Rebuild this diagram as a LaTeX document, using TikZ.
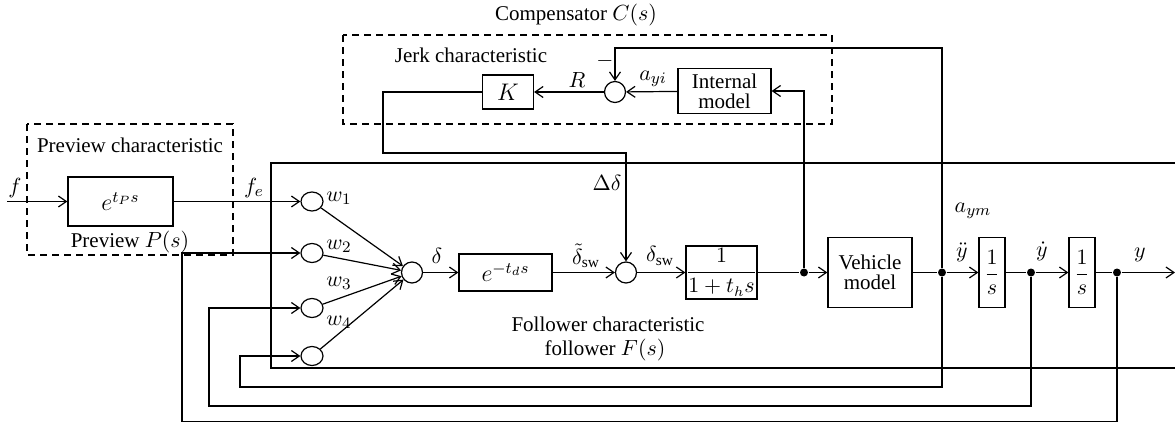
\documentclass[tikz,border=0pt]{standalone}
\usepackage{fontspec}
\setmainfont{Liberation Serif}
\usetikzlibrary{arrows.meta,shapes.geometric}
\begin{document}
\begin{tikzpicture}[x=0.5pt,y=-0.5pt, line width=0.6pt,
  >={Straight Barb[length=4pt,width=5.5pt]},
  blk/.style={draw, inner sep=0pt, align=center, font=\fontsize{10.5}{11}\selectfont},
  mblk/.style={blk, font=\fontsize{11.5}{12}\selectfont},
  sumc/.style={draw, circle, minimum size=10.5pt, inner sep=0pt},
  wc/.style={draw, ellipse, minimum width=11pt, minimum height=9.5pt, inner sep=0pt},
  dot/.style={circle, fill, minimum size=4pt, inner sep=0pt},
  lbl/.style={font=\fontsize{10.5}{11}\selectfont, inner sep=0pt},
  mlbl/.style={font=\fontsize{11}{12}\selectfont, inner sep=0pt},
  dbox/.style={draw, dash pattern=on 3.5pt off 2.5pt},
]
\useasboundingbox (0,0) rectangle (1175,423);

% dashed regions
\draw[dbox] (343,35) rectangle (832,124);
\draw[dbox] (27,124) rectangle (233,255);
% follower region (open to the right)
\draw (1175,163) -- (271,163) -- (271,368) -- (1175,368);

% labels of regions
\node[lbl] (lcomp) at (576,15) {Compensator $C(s)$};
\node[lbl] (ljerk) at (471,55) {Jerk characteristic};
\node[lbl] (lprevc) at (130,145) {Preview characteristic};
\node[lbl] (lprev) at (130,242) {Preview $P(s)$};
\node[lbl] (lfol1) at (608,324) {Follower characteristic};
\node[lbl] (lfol2) at (605,350) {follower $F(s)$};

% compensator blocks
\node[mblk, minimum width=25.5pt, minimum height=17pt] (K) at (508,92) {$K$};
\node[sumc] (c1) at (615,92) {};
\node[blk, minimum width=46.5pt, minimum height=22.5pt] (IM) at (724.5,91) {Internal\\[-1pt]model};

% preview block
\node[mblk, minimum width=52.5pt, minimum height=24.5pt] (P) at (120.5,201.5) {$e^{t_P s}$};

% weights
\node[wc] (w1) at (312,201.5) {};
\node[wc] (w2) at (312,253) {};
\node[wc] (w3) at (312,308) {};
\node[wc] (w4) at (312,356) {};
\node[sumc] (s2) at (412,272.5) {};
\node[mblk, minimum width=46.5pt, minimum height=18.5pt] (D) at (505.5,272.5) {$e^{-t_d s}$};
\node[sumc] (s3) at (626,272.5) {};
\node[blk, minimum width=34.5pt, minimum height=26.5pt] (L) at (721.5,272.5) {$\displaystyle\frac{1}{1+t_h s}$};
\node[dot] (d1) at (804,272.5) {};
\node[blk, minimum width=42pt, minimum height=35pt] (V) at (870,272.5) {Vehicle\\[-1pt]model};
\node[dot] (d2) at (942,272.5) {};
\node[blk, minimum width=13pt, minimum height=35pt] (I1) at (992,272.5) {$\displaystyle\frac{1}{s}$};
\node[dot] (d3) at (1031,272.5) {};
\node[blk, minimum width=13pt, minimum height=35pt] (I2) at (1082,272.5) {$\displaystyle\frac{1}{s}$};
\node[dot] (d4) at (1117,272.5) {};

% signal labels
\node[mlbl] (lf) at (15,188) {$f$};
\node[mlbl] (lfe) at (254,188) {$f_e$};
\node[mlbl] (lw1) at (339,198) {$w_1$};
\node[mlbl] (lw2) at (339,246) {$w_2$};
\node[mlbl] (lw3) at (339,283) {$w_3$};
\node[mlbl] (lw4) at (339,322) {$w_4$};
\node[mlbl] (ldelta) at (437,256) {$\delta$};
\node[mlbl] (ldt) at (586,256) {$\tilde{\delta}_{\mathrm{sw}}$};
\node[mlbl] (ldsw) at (660,256) {$\delta_{\mathrm{sw}}$};
\node[mlbl] (ldd) at (607,183) {$\Delta\delta$};
\node[mlbl] (lR) at (577,80) {$R$};
\node[mlbl] (lminus) at (605,61) {$-$};
\node[mlbl] (layi) at (653,79) {$a_{yi}$};
\node[mlbl] (laym) at (973,211) {$a_{ym}$};
\node[mlbl] (lydd) at (962,252) {$\ddot{y}$};
\node[mlbl] (lyd) at (1042,251) {$\dot{y}$};
\node[mlbl] (ly) at (1140,255) {$y$};

% coordinates
\coordinate (fin) at (7,201.5);
\coordinate (out) at (1175,272.5);
\coordinate (t1) at (942,48);
\coordinate (k1) at (383,92);
\coordinate (k2) at (383,153);
\coordinate (b4) at (240,387);
\coordinate (b3) at (209,406);
\coordinate (b2) at (182,421.5);

% forward path
\draw[->] (fin) -- (P);
\draw[->] (P) -- (w1);
\draw[->] (w1) -- (s2);
\draw[->] (w2) -- (s2);
\draw[->] (w3) -- (s2);
\draw[->] (w4) -- (s2);
\draw[->] (s2) -- (D);
\draw[->] (D) -- (s3);
\draw[->] (s3) -- (L);
\draw (L) -- (d1);
\draw[->] (d1) -- (V);
\draw (V) -- (d2);
\draw[->] (d2) -- (I1);
\draw (I1) -- (d3);
\draw[->] (d3) -- (I2);
\draw (I2) -- (d4);
\draw[->] (d4) -- (out);

% compensator paths
\draw[->] (d1) |- (IM.east);
\draw[->] (IM) -- (c1);
\draw[->] (c1) -- (K);
\draw[->] (d2) -- (t1) -| (c1.north);
\draw[->] (K.west) -- (k1) -- (k2) -| (s3.north);

% feedback paths
\draw[->] (d2) |- (b4) |- (w4.west);
\draw[->] (d3) |- (b3) |- (w3.west);
\draw[->] (d4) |- (b2) |- (w2.west);
\end{tikzpicture}
\end{document}
